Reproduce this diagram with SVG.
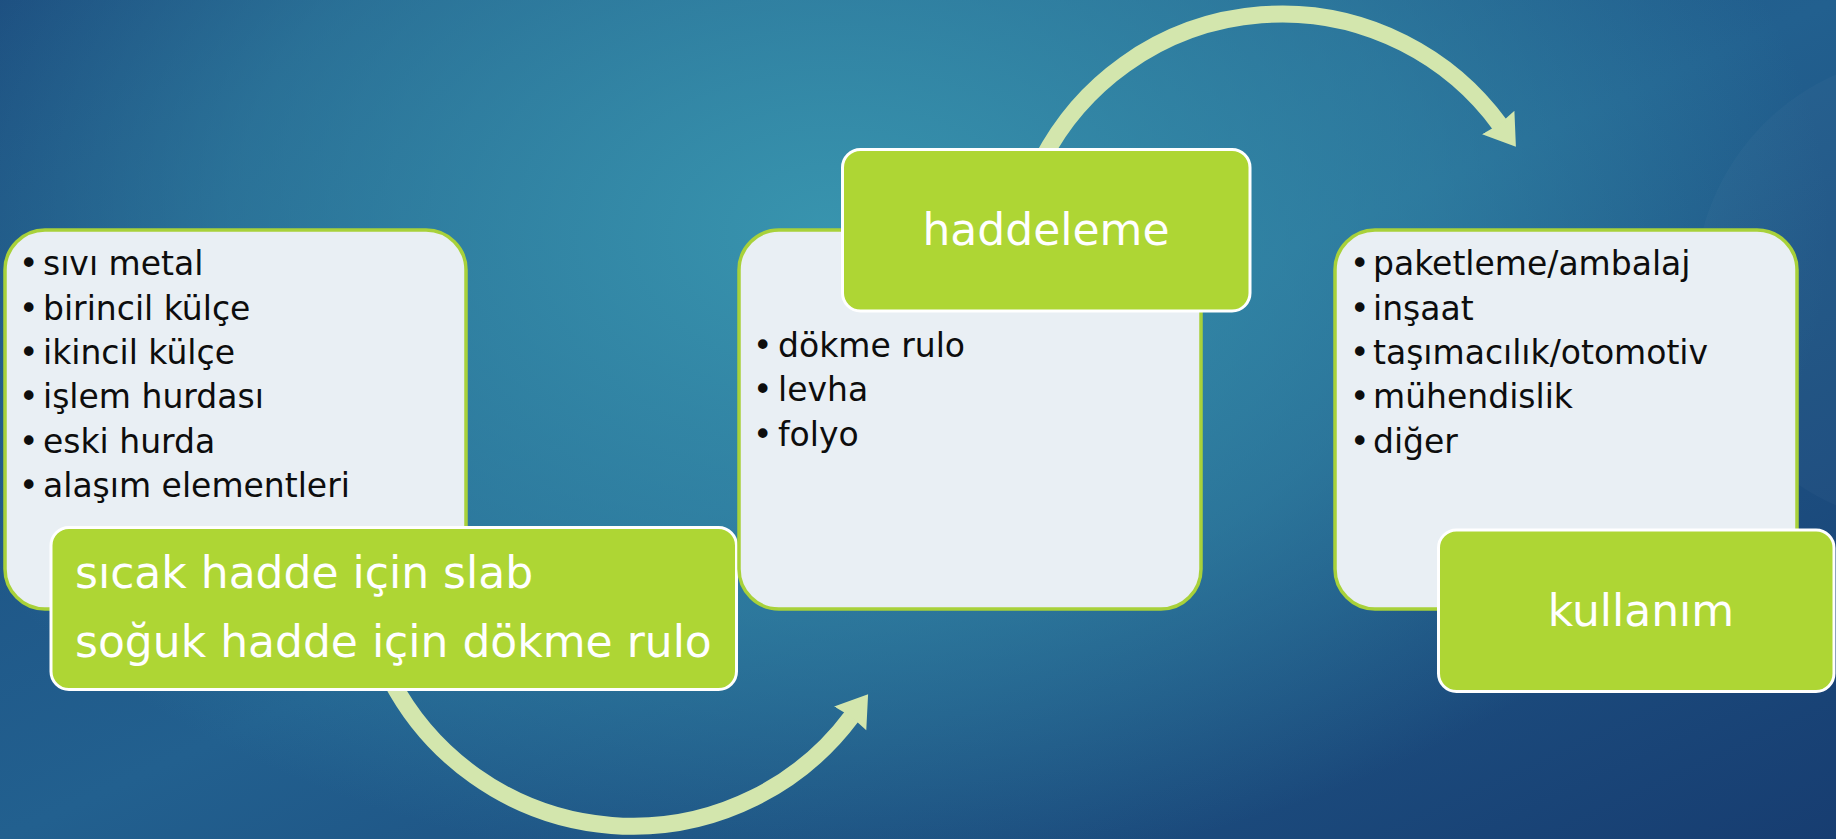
<svg xmlns="http://www.w3.org/2000/svg" width="1836" height="839" viewBox="0 0 1836 839">
  <defs>
    <linearGradient id="bgBase" x1="0" y1="0" x2="1" y2="1">
      <stop offset="0" stop-color="#1a477b"/>
      <stop offset="0.5" stop-color="#22608f"/>
      <stop offset="1" stop-color="#173d71"/>
    </linearGradient>
    <radialGradient id="bgGlow" gradientUnits="userSpaceOnUse" cx="830" cy="230" r="1000" gradientTransform="translate(830 230) scale(1 0.65) translate(-830 -230)">
      <stop offset="0" stop-color="#3894ae" stop-opacity="1"/>
      <stop offset="0.6" stop-color="#3894ae" stop-opacity="0.5"/>
      <stop offset="1" stop-color="#3894ae" stop-opacity="0"/>
    </radialGradient>
    <marker id="ah" markerUnits="userSpaceOnUse" markerWidth="32" markerHeight="42" viewBox="0 0 32 42" refX="3" refY="21" orient="auto">
      <path d="M0,1 L30,21 L0,41 L2,21 z" fill="#d3e6ad"/>
    </marker>
    <style>
      .panel { fill: #e9eff4; stroke: #a8d13a; stroke-width: 3.5; }
      .label { fill: #aed634; stroke: #ffffff; stroke-width: 3; }
      .list { font-family: "DejaVu Sans", "Liberation Sans", sans-serif; font-size: 33px; fill: #0d0d0d; }
      .big { font-family: "DejaVu Sans", "Liberation Sans", sans-serif; font-size: 44px; fill: #ffffff; }
      .arc { fill: none; stroke: #d3e6ad; stroke-width: 17; marker-end: url(#ah); }
    </style>
  </defs>

  <rect x="0" y="0" width="1836" height="839" fill="url(#bgBase)"/>
  <rect x="0" y="0" width="1836" height="839" fill="url(#bgGlow)"/>
  <circle cx="1930" cy="290" r="235" fill="#ffffff" fill-opacity="0.025"/>

  <g id="connectors">
    <path class="arc" d="M 391 680 A 273 273 0 0 0 852 716"/>
    <path class="arc" d="M 1042 160 A 270 270 0 0 1 1500 125"/>
  </g>

  <g id="node-inputs">
    <rect class="panel" x="5" y="230" width="461" height="379" rx="40"/>
    <text class="list">
      <tspan x="19" y="275">•</tspan><tspan x="43" y="275">sıvı metal</tspan>
      <tspan x="19" y="320">•</tspan><tspan x="43" y="320">birincil külçe</tspan>
      <tspan x="19" y="364">•</tspan><tspan x="43" y="364">ikincil külçe</tspan>
      <tspan x="19" y="408">•</tspan><tspan x="43" y="408">işlem hurdası</tspan>
      <tspan x="19" y="453">•</tspan><tspan x="43" y="453">eski hurda</tspan>
      <tspan x="19" y="497">•</tspan><tspan x="43" y="497">alaşım elementleri</tspan>
    </text>
  </g>

  <g id="node-casting">
    <rect class="label" x="51" y="527.5" width="685.5" height="162" rx="18"/>
    <text class="big">
      <tspan x="75" y="588">sıcak hadde için slab</tspan>
      <tspan x="75" y="657">soğuk hadde için dökme rulo</tspan>
    </text>
  </g>

  <g id="node-products">
    <rect class="panel" x="739" y="230" width="462" height="379" rx="40"/>
    <text class="list">
      <tspan x="753" y="357">•</tspan><tspan x="778" y="357">dökme rulo</tspan>
      <tspan x="753" y="401">•</tspan><tspan x="778" y="401">levha</tspan>
      <tspan x="753" y="446">•</tspan><tspan x="778" y="446">folyo</tspan>
    </text>
  </g>

  <g id="node-haddeleme">
    <rect class="label" x="842.5" y="149.5" width="407.5" height="161.5" rx="18"/>
    <text class="big" x="1046" y="245" text-anchor="middle">haddeleme</text>
  </g>

  <g id="node-uses">
    <rect class="panel" x="1335" y="230" width="462" height="379" rx="40"/>
    <text class="list">
      <tspan x="1350" y="275">•</tspan><tspan x="1373" y="275">paketleme/ambalaj</tspan>
      <tspan x="1350" y="320">•</tspan><tspan x="1373" y="320">inşaat</tspan>
      <tspan x="1350" y="364">•</tspan><tspan x="1373" y="364">taşımacılık/otomotiv</tspan>
      <tspan x="1350" y="408">•</tspan><tspan x="1373" y="408">mühendislik</tspan>
      <tspan x="1350" y="453">•</tspan><tspan x="1373" y="453">diğer</tspan>
    </text>
  </g>

  <g id="node-kullanim">
    <rect class="label" x="1438.5" y="530" width="395.5" height="161.5" rx="18"/>
    <text class="big" x="1641" y="626" text-anchor="middle">kullanım</text>
  </g>
</svg>
